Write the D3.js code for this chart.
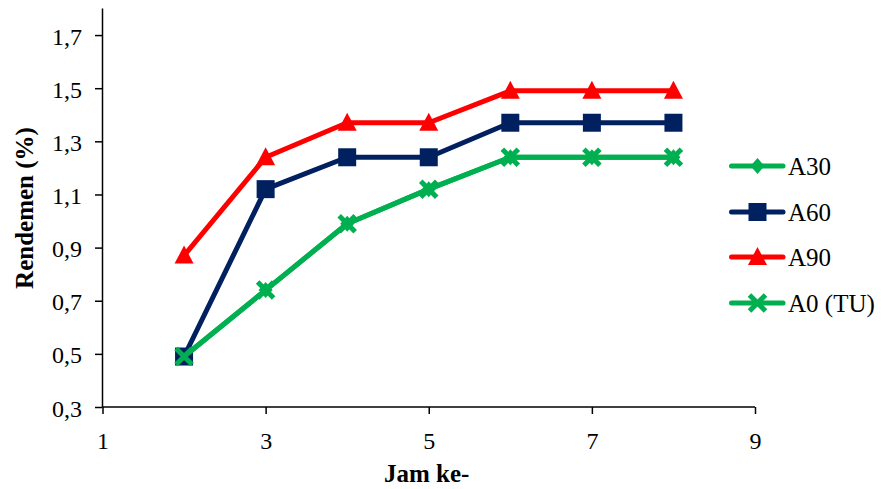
<!DOCTYPE html>
<html>
<head>
<meta charset="utf-8">
<script src="https://cdn.jsdelivr.net/npm/d3@7"></script>
<style>
  html, body { margin: 0; padding: 0; background: #fff; }
  svg { display: block; }
  svg text { font-family: "Liberation Serif", "Times New Roman", serif; fill: #000; }
</style>
</head>
<body>
<svg id="chart" width="882" height="489"></svg>
<script>
// Hours of observation and yield (%) per treatment
const hours = [2, 3, 4, 5, 6, 7, 8];
const seriesNames = ["A30", "A60", "A90", "A0 (TU)"];
const a30 = [0.49, 0.74, 0.99, 1.12, 1.24, 1.24, 1.24];
const a60 = [0.49, 1.12, 1.24, 1.24, 1.37, 1.37, 1.37];
const a90 = [0.87, 1.24, 1.37, 1.37, 1.49, 1.49, 1.49];
const a0  = [0.49, 0.74, 0.99, 1.12, 1.24, 1.24, 1.24];
const xTicks = [1, 3, 5, 7, 9];
const yTicks = [0.3, 0.5, 0.7, 0.9, 1.1, 1.3, 1.5, 1.7];

const series = [
  { name: seriesNames[0], values: a30, color: "#00B050", marker: "diamond" },
  { name: seriesNames[1], values: a60, color: "#002060", marker: "square" },
  { name: seriesNames[2], values: a90, color: "#FF0000", marker: "triangle" },
  { name: seriesNames[3], values: a0,  color: "#00B050", marker: "cross" }
];

const svg = d3.select("#chart");
const plot = { left: 102.5, right: 755, top: 8.5, bottom: 407 };

const x = d3.scaleLinear().domain([1, 9]).range([plot.left, plot.right]);
const y = d3.scaleLinear().domain([0.3, 1.8]).range([plot.bottom, plot.top]);

const fmt = d => d3.format(".1f")(d).replace(".", ",");

// Axes
const xAxis = svg.append("g")
  .attr("transform", `translate(0,${plot.bottom})`)
  .call(d3.axisBottom(x).tickValues(xTicks).tickFormat(d3.format("d")).tickSize(7).tickPadding(18));
const yAxis = svg.append("g")
  .attr("transform", `translate(${plot.left},0)`)
  .call(d3.axisLeft(y).tickValues(yTicks).tickFormat(fmt).tickSize(7.5).tickPadding(13));

[xAxis, yAxis].forEach(g => {
  g.attr("font-family", null).attr("font-size", null);
  g.select(".domain").attr("stroke", "#000").attr("stroke-width", 1.5);
  g.selectAll(".tick line").attr("stroke", "#000").attr("stroke-width", 1.5);
  g.selectAll(".tick text").style("font-size", "24px");
});
yAxis.selectAll(".tick text").attr("dy", "0.38em");
// Plain axis lines without end caps
xAxis.select(".domain").attr("d", `M${plot.left},0H${plot.right}`);
yAxis.select(".domain").attr("d", `M0,${plot.top}V${plot.bottom}`);

// Axis titles
svg.append("text")
  .attr("x", (plot.left + plot.right) / 2 - 2).attr("y", 482)
  .attr("text-anchor", "middle")
  .style("font-size", "25px").style("font-weight", "bold")
  .text("Jam ke-");
svg.append("text")
  .attr("transform", `translate(33,208) rotate(-90)`)
  .attr("text-anchor", "middle")
  .style("font-size", "25px").style("font-weight", "bold")
  .text("Rendemen (%)");

// Marker drawing
function drawMarker(g, type, color) {
  if (type === "square") {
    g.append("rect").attr("x", -9).attr("y", -9).attr("width", 18).attr("height", 18).attr("fill", color);
  } else if (type === "triangle") {
    g.append("path").attr("d", "M0,-10L9.5,8L-9.5,8Z").attr("fill", color);
  } else if (type === "diamond") {
    g.append("path").attr("d", "M0,-8L7,0L0,8L-7,0Z").attr("fill", color);
  } else if (type === "cross") {
    g.append("path").attr("d", "M-8,-8L8,8M-8,8L8,-8")
      .attr("stroke", color).attr("stroke-width", 5).attr("fill", "none");
  }
}

const line = d3.line().x((d, i) => x(hours[i])).y(d => y(d));

series.forEach(s => {
  const g = svg.append("g");
  g.append("path")
    .datum(s.values)
    .attr("d", line)
    .attr("fill", "none")
    .attr("stroke", s.color)
    .attr("stroke-width", 5)
    .attr("stroke-linejoin", "round");
  s.values.forEach((v, i) => {
    const m = g.append("g").attr("transform", `translate(${x(hours[i])},${y(v)})`);
    drawMarker(m, s.marker, s.color);
  });
});

// Legend
const legendY = [166, 212, 257, 303];
series.forEach((s, i) => {
  const g = svg.append("g").attr("transform", `translate(0,${legendY[i]})`);
  g.append("line").attr("x1", 731.5).attr("x2", 783).attr("y1", 0).attr("y2", 0)
    .attr("stroke", s.color).attr("stroke-width", 5).attr("stroke-linecap", "round");
  const m = g.append("g").attr("transform", "translate(757.5,0)");
  drawMarker(m, s.marker, s.color);
  g.append("text").attr("x", 788).attr("y", 9)
    .style("font-size", "25px").text(s.name);
});
</script>
</body>
</html>
